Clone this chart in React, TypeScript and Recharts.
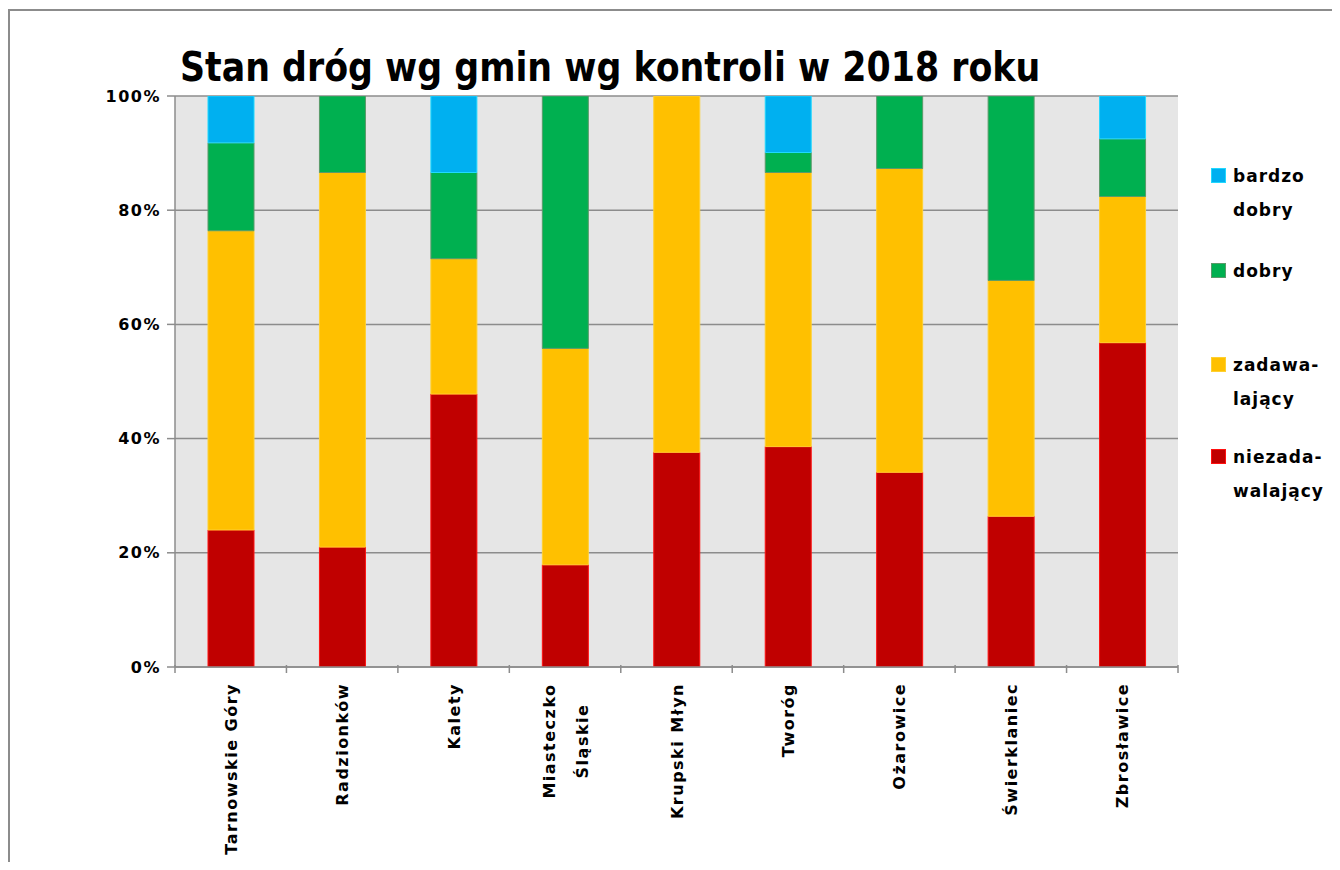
import React from "react";
import { BarChart, Bar, XAxis, YAxis, CartesianGrid } from "recharts";

const categories = [
  "Tarnowskie Góry",
  "Radzionków",
  "Kalety",
  "Miasteczko Śląskie",
  "Krupski Młyn",
  "Tworóg",
  "Ożarowice",
  "Świerklaniec",
  "Zbrosławice",
];
const categoryLabelLines = [
  ["Tarnowskie Góry"],
  ["Radzionków"],
  ["Kalety"],
  ["Miasteczko", "Śląskie"],
  ["Krupski Młyn"],
  ["Tworóg"],
  ["Ożarowice"],
  ["Świerklaniec"],
  ["Zbrosławice"],
];

const bardzoDobry = [8.2, 0, 13.4, 0, 0, 9.9, 0, 0, 7.5];
const dobry = [15.4, 13.4, 15.1, 44.2, 0, 3.5, 12.7, 32.3, 10.1];
const zadawalajacy = [52.4, 65.6, 23.7, 37.9, 62.4, 48.0, 53.2, 41.3, 25.6];
const niezadawalajacy = [24.0, 21.0, 47.8, 17.9, 37.6, 38.6, 34.1, 26.4, 56.8];

const yTicks = [0, 20, 40, 60, 80, 100];

const title = "Stan dróg wg gmin wg kontroli w 2018 roku";

const seriesDefs = [
  { key: "niezadawalajacy", name: "niezadawalający", legend: ["niezada-", "walający"], fill: "#C00000", stroke: "#FF1010" },
  { key: "zadawalajacy", name: "zadawalający", legend: ["zadawa-", "lający"], fill: "#FFC000", stroke: "#FFD030" },
  { key: "dobry", name: "dobry", legend: ["dobry"], fill: "#00B050", stroke: "#5A9A6A" },
  { key: "bardzoDobry", name: "bardzo dobry", legend: ["bardzo", "dobry"], fill: "#00B0F0", stroke: "#20D8FF" },
];

const data = categories.map((c, i) => ({
  name: c,
  lines: categoryLabelLines[i],
  niezadawalajacy: niezadawalajacy[i],
  zadawalajacy: zadawalajacy[i],
  dobry: dobry[i],
  bardzoDobry: bardzoDobry[i],
}));

const W = 1324;
const H = 854;
const MARGIN = { top: 88, right: 154, bottom: 0, left: 0 };
const Y_AXIS_W = 167;
const X_AXIS_H = 195;
const GRID = "#8c8c8c";
const labelFont = "'DejaVu Sans', Verdana, sans-serif";

const XTick = (props: any) => {
  const { x, y, payload, index } = props;
  const n = categories.length;
  const band = (W - MARGIN.right - Y_AXIS_W - MARGIN.left) / n;
  const half = payload && payload.offset ? payload.offset : band / 2;
  const axisY = y - 10;
  const lines: string[] = categoryLabelLines[index] || [String(payload.value)];
  const longest = Math.max(...lines.map((l) => l.length));
  const charW = 11.6;
  return (
    <g>
      <line x1={x + half} x2={x + half} y1={axisY} y2={axisY + 8} stroke={GRID} strokeWidth={1.5} />
      {index === 0 && (
        <line x1={x - half} x2={x - half} y1={axisY} y2={axisY + 8} stroke={GRID} strokeWidth={1.5} />
      )}
      <g transform={`translate(${x},${y + 8})`}>
        {lines.length === 1 ? (
          <text
            transform="rotate(-90)"
            textAnchor="end"
            dy={6}
            fontFamily={labelFont}
            fontSize={16}
            fontWeight="bold"
            letterSpacing={1.5}
            fill="#000"
          >
            {lines[0]}
          </text>
        ) : (
          lines.map((l, li) => (
            <text
              key={li}
              transform="rotate(-90)"
              x={-(longest * charW) / 2}
              y={(li - (lines.length - 1) / 2) * 33}
              dy={6}
              textAnchor="middle"
              fontFamily={labelFont}
              fontSize={16}
              fontWeight="bold"
              letterSpacing={1.5}
              fill="#000"
            >
              {l}
            </text>
          ))
        )}
      </g>
    </g>
  );
};

const Legendbox = () => {
  const order = [...seriesDefs].reverse();
  const tops = [160, 255, 349, 441];
  return (
    <>
      {order.map((s, i) => (
        <div key={s.key} style={{ position: "absolute", left: 1203, top: tops[i] }}>
          <div
            style={{
              position: "absolute",
              left: 0,
              top: 0,
              width: 15,
              height: 15,
              background: s.fill,
              boxSizing: "border-box",
              border: `1px solid ${s.stroke}`,
            }}
          />
          {s.legend.map((l, li) => (
            <div
              key={li}
              style={{
                position: "absolute",
                left: 22,
                top: -9 + li * 34,
                fontFamily: labelFont,
                fontWeight: "bold",
                fontSize: 17,
                letterSpacing: 1,
                lineHeight: "34px",
                whiteSpace: "nowrap",
                color: "#000",
              }}
            >
              {l}
            </div>
          ))}
        </div>
      ))}
    </>
  );
};

export default function App() {
  return (
    <div style={{ position: "relative", width: W, height: H, background: "#fff" }}>
      <div
        style={{
          position: "absolute",
          left: 0,
          top: 1,
          width: W + 8,
          height: H + 7,
          borderTop: `2px solid ${GRID}`,
          borderLeft: `2px solid ${GRID}`,
          boxSizing: "border-box",
        }}
      />
      <div
        style={{
          position: "absolute",
          left: 172,
          top: 33,
          fontFamily: "'DejaVu Sans', sans-serif",
          fontWeight: "bold",
          fontSize: 40,
          lineHeight: "52px",
          whiteSpace: "nowrap",
          color: "#000",
          transform: "scaleX(0.87)",
          transformOrigin: "left center",
        }}
      >
        {title}
      </div>
      <div style={{ position: "absolute", left: 0, top: 0 }}>
        <BarChart width={W} height={H} data={data} margin={MARGIN} barSize={46}>
          <CartesianGrid vertical={false} fill="#e6e6e6" stroke={GRID} strokeWidth={1.5} />
          <XAxis
            dataKey="name"
            type="category"
            height={X_AXIS_H}
            interval={0}
            tickLine={false}
            axisLine={{ stroke: GRID, strokeWidth: 1.5 }}
            tick={<XTick />}
          />
          <YAxis
            width={Y_AXIS_W}
            domain={[0, 100]}
            ticks={yTicks}
            allowDataOverflow
            tickFormatter={(v: number) => `${v}%`}
            tickSize={8}
            tickMargin={6}
            axisLine={{ stroke: GRID, strokeWidth: 1.5 }}
            tickLine={{ stroke: GRID, strokeWidth: 1.5 }}
            tick={{ fontFamily: labelFont, fontSize: 16, fontWeight: "bold", fill: "#000", letterSpacing: 1.5 }}
          />
          {seriesDefs.map((s) => (
            <Bar
              key={s.key}
              dataKey={s.key}
              name={s.name}
              stackId="a"
              fill={s.fill}
              stroke={s.stroke}
              strokeWidth={1}
              isAnimationActive={false}
            />
          ))}
        </BarChart>
      </div>
      <Legendbox />
    </div>
  );
}
